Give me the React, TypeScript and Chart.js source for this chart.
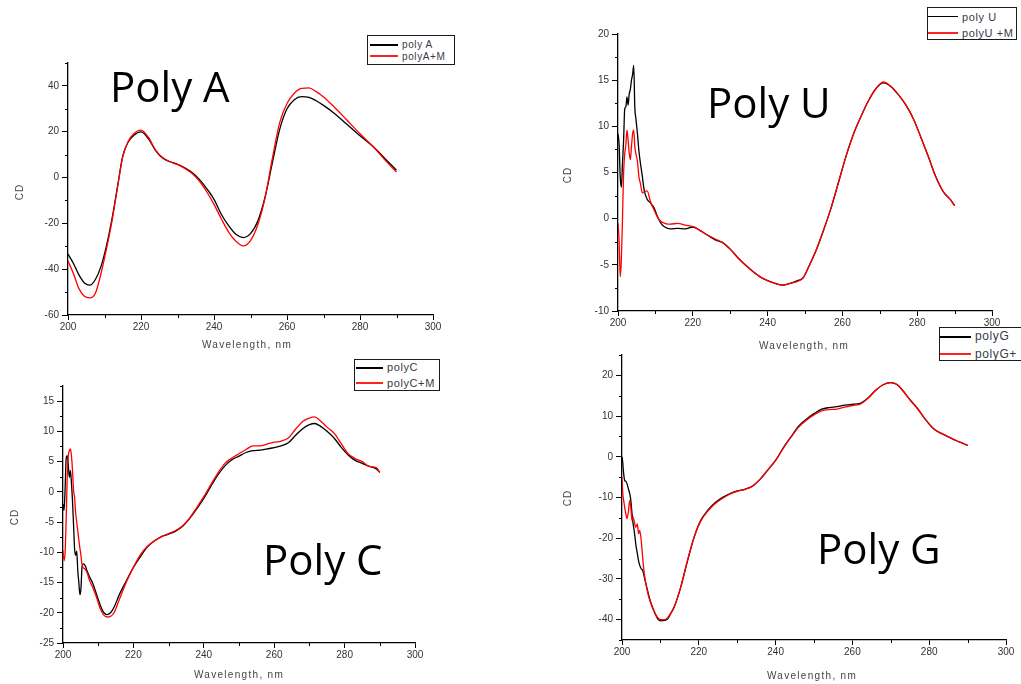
import { useEffect, useRef } from "react";
import { Chart, registerables } from "chart.js";

Chart.register(...registerables);

// ---- Poly A ----
const polyAWave = [200, 201.5, 203, 204.5, 206, 207.5, 209, 210.5, 212, 213.5, 215, 216.5, 218, 220, 222, 224, 226, 228, 230, 232, 234, 236, 238, 240, 242, 244, 246, 248, 250, 252, 254, 256, 258, 260, 262, 264, 266, 268, 270, 273, 276, 280, 284, 287, 290];
const polyA = [-33.4, -37.5, -42.5, -46, -47, -44.5, -39, -30, -18.5, -4.5, 9.5, 15.5, 18.4, 19.9, 17, 11.8, 8.4, 6.9, 5.8, 4.2, 2.2, -0.8, -4.8, -9.5, -16, -21, -24.8, -26.2, -24.5, -19, -8.5, 6.5, 21, 30, 34, 35.3, 35, 33.5, 31.5, 28, 23.8, 18.2, 12.9, 8, 3.2];
const polyAM = [-36.4, -42, -48.5, -51.8, -52.5, -50.5, -42.2, -31.5, -19.5, -5, 9, 15.8, 19.1, 20.7, 17.6, 12, 8.6, 6.9, 5.6, 4, 1.8, -1.5, -6.2, -11.7, -18, -23.8, -27.8, -29.8, -27.5, -20.6, -8.8, 8.5, 24, 32.3, 36.8, 38.9, 39.1, 37.5, 35.2, 30.7, 25.8, 19.1, 12.8, 7.4, 2.4];

// ---- Poly U ----
const polyUWave = [200, 200.3, 200.6, 200.9, 201.2, 201.5, 201.8, 202.1, 202.4, 202.7, 203, 203.3, 203.6, 203.9, 204.2, 204.5, 204.8, 205.2, 205.6, 206, 206.5, 207, 207.8, 208.7, 209.6, 210.5, 211.5, 212.5, 214, 216, 218, 220, 222, 224, 226, 228, 230, 232, 234, 236, 238, 240, 242, 244, 246, 248, 249.5, 251, 253, 255, 257, 259, 261, 263, 265, 267, 269, 271, 273, 275, 277, 279, 281, 283, 285, 287, 289, 290];
const polyU = [9.2, 8, 4.5, 3.4, 6, 8.5, 11.9, 12.1, 13.2, 12.3, 13.5, 14, 15, 15.6, 16.6, 12, 10.8, 9.2, 7.3, 6, 4.6, 3.1, 2.1, 1.7, 1.2, 0.3, -0.5, -0.9, -1.1, -1.05, -1.1, -0.9, -1.3, -1.8, -2.3, -2.6, -3.3, -4.2, -5, -5.7, -6.3, -6.7, -7, -7.2, -7, -6.7, -6.4, -5.2, -3.4, -1.2, 1.2, 4, 6.8, 9.2, 11.1, 12.8, 14.1, 14.7, 14.3, 13.4, 12.3, 10.8, 8.8, 6.7, 4.5, 2.9, 2, 1.4];
const polyUM = [-0.5, -2.5, -6.3, -4.4, 0, 5, 7, 8, 9.6, 8.5, 7.1, 6.4, 7.8, 9.2, 9.6, 7.8, 7, 6.2, 4.5, 3.8, 2.8, 2.9, 3, 1.8, 1, 0.2, -0.3, -0.5, -0.6, -0.5, -0.7, -0.85, -1.3, -1.8, -2.2, -2.6, -3.3, -4.2, -5, -5.7, -6.3, -6.7, -7, -7.2, -7, -6.8, -6.4, -5.2, -3.4, -1.2, 1.2, 4, 6.8, 9.2, 11.1, 12.8, 14.1, 14.8, 14.3, 13.4, 12.3, 10.8, 8.8, 6.7, 4.5, 2.9, 2, 1.4];

// ---- Poly C ----
const polyCWave = [200, 200.3, 200.6, 200.9, 201.2, 201.5, 201.8, 202.1, 202.4, 202.7, 203, 203.3, 203.6, 203.9, 204.2, 204.5, 204.8, 205.1, 205.4, 205.8, 206.3, 206.8, 207.5, 208.5, 209.5, 210.5, 211.5, 212.5, 213.5, 214.5, 216, 218, 220, 222, 224, 226, 228, 230, 232, 234, 236, 238, 240, 242, 244, 246, 248, 250, 252, 254, 256, 258, 260, 262, 264, 266, 268, 270, 271.5, 273, 275, 277, 279, 281, 283, 285, 287, 289, 290];
const polyC = [-2, -3.1, 0.5, 5.5, 6, 4.5, 2.4, 3.5, 1.5, -1.5, -5.5, -9.5, -10.5, -9.8, -13, -15, -17, -16, -12.5, -11.9, -12.2, -13, -14, -15.2, -16.9, -18.6, -19.9, -20.3, -20, -19.1, -17, -14.7, -12.5, -10.7, -9.1, -8.1, -7.4, -7, -6.5, -5.7, -4.4, -2.8, -1.1, 0.9, 2.8, 4.3, 5.3, 5.9, 6.5, 6.8, 6.9, 7.1, 7.3, 7.6, 8.1, 9.3, 10.4, 11.1, 11.3, 10.9, 10, 8.9, 7.4, 6.1, 5.2, 4.7, 4.2, 3.8, 3.2];
const polyCM = [-9.7, -11.4, -10, -4.5, 2.5, 6, 6.8, 7.1, 6, 3.5, 0.3, -1, -3.5, -5, -6.5, -8, -9.3, -10.5, -12, -12.6, -12.8, -13.3, -14.6, -15.9, -17.4, -19.2, -20.3, -20.7, -20.6, -20, -17.8, -14.9, -12.5, -10.4, -9, -8.1, -7.4, -6.9, -6.4, -5.6, -4.3, -2.6, -0.8, 1.2, 3.1, 4.7, 5.6, 6.3, 7, 7.6, 7.6, 7.9, 8.2, 8.4, 8.9, 10.3, 11.6, 12.2, 12.4, 11.8, 10.7, 9.7, 8, 6.3, 5.5, 5, 4.2, 4, 3.2];

// ---- Poly G ----
const polyGWave = [200, 200.2, 200.4, 200.7, 201, 201.3, 201.7, 202, 202.3, 202.6, 202.9, 203.2, 203.6, 204, 204.3, 204.6, 205, 205.4, 205.8, 206.7, 207.5, 208.4, 209.3, 210.1, 211, 211.9, 212.7, 213.6, 215.3, 217, 218.8, 220.5, 222.3, 224, 226, 228, 230, 232, 234, 236, 238, 240, 242, 244, 246, 248, 250, 252, 254, 256, 258, 260, 262, 264, 266, 268, 270, 271.5, 273, 275, 277, 279, 281, 283, 285, 287, 289, 290];
const polyG = [0, -1.5, -3.8, -5.8, -6, -6.6, -8, -9, -10.7, -13.9, -16.5, -18.3, -21.5, -23.8, -25.5, -26.6, -27.5, -27.9, -29.5, -33, -35.8, -38, -39.8, -40.3, -40.2, -39.8, -38.5, -36.9, -32, -25.8, -19.7, -15.6, -13.2, -11.5, -10.1, -9.1, -8.4, -8, -7.2, -5.5, -3.2, -0.9, 2.2, 4.9, 7.5, 9.2, 10.6, 11.7, 12.1, 12.3, 12.7, 12.9, 13.1, 14.4, 16.3, 17.7, 18.2, 17.8, 16.4, 14, 11.8, 9.2, 7, 5.8, 4.9, 4, 3.2, 2.8];
const polyGM = [-5, -9, -10.5, -12.4, -14, -15.2, -13.2, -10.7, -12.5, -15.6, -14.8, -16, -17.3, -16.5, -18.9, -18.1, -20.5, -25, -28.7, -33.4, -36, -38.1, -39.5, -40, -40, -39.5, -38.4, -36.8, -32, -25.6, -19.7, -15.8, -13.4, -11.7, -10.3, -9.2, -8.5, -8, -7.2, -5.5, -3.2, -0.9, 2.1, 4.8, 7.3, 9, 10.3, 11.3, 11.6, 11.7, 12.2, 12.6, 12.9, 14.3, 16.3, 17.7, 18.2, 17.8, 16.4, 14, 11.8, 9.2, 7, 5.8, 4.9, 4, 3.2, 2.8];

// ---- ticks and labels ----
const waveTicks = [200, 220, 240, 260, 280, 300];
const polyATicks = [-60, -40, -20, 0, 20, 40];
const polyUTicks = [-10, -5, 0, 5, 10, 15, 20];
const polyCTicks = [-25, -20, -15, -10, -5, 0, 5, 10, 15];
const polyGTicks = [-40, -30, -20, -10, 0, 10, 20];

const polyALabels = ["poly A", "polyA+M"];
const polyULabels = ["poly U", "polyU +M"];
const polyCLabels = ["polyC", "polyC+M"];
const polyGLabels = ["polyG", "polyG+"];

const TICK_FONT = { family: "'Liberation Sans', Arial, sans-serif", size: 10 };

// Origin-style minor ticks, outside the axes
const minorTicks = {
  id: "minorTicks",
  afterDraw(chart: any, _args: any, opts: any) {
    const ctx = chart.ctx;
    ctx.save();
    ctx.strokeStyle = "#000";
    ctx.lineWidth = 1;
    for (const id of ["x", "y"]) {
      const scale = chart.scales[id];
      const step = opts[id];
      const majors = scale.ticks.map((t: any) => t.value);
      for (let v = scale.min; v <= scale.max + 1e-9; v += step) {
        if (majors.some((m: number) => Math.abs(m - v) < 1e-6)) continue;
        const p = Math.round(scale.getPixelForValue(v)) + 0.5;
        ctx.beginPath();
        if (id === "x") {
          ctx.moveTo(p, scale.top);
          ctx.lineTo(p, scale.top + 3);
        } else {
          ctx.moveTo(scale.right, p);
          ctx.lineTo(scale.right - 3, p);
        }
        ctx.stroke();
      }
    }
    ctx.restore();
  },
};

interface PanelProps {
  wave: number[];
  base: number[];
  mixed: number[];
  labels: string[];
  title: string;
  yMin: number;
  yMax: number;
  yTicks: number[];
  yMinor: number;
  box: { l: number; t: number; r: number; b: number };
  titleAt: { left: number; baseline: number };
  xTitleAt: { x: number; y: number };
  yTitleAt: { x: number; y: number };
  legend: { left: number; top: number; width: number; height: number; padTop: number; lh: number; fs: number; lineOff: number; lineLen: number };
}

function Panel(p: PanelProps) {
  const ref = useRef<HTMLCanvasElement>(null);
  const left = Math.round(p.box.l) - 45;
  const top = Math.round(p.box.t) - 12;
  const width = Math.round(p.box.r) + 22 - left;
  const height = Math.round(p.box.b) + 30 - top;
  const yAxisW = Math.round(p.box.l) - left;
  const xAxisH = 30;

  useEffect(() => {
    if (!ref.current) return;
    const chart = new Chart(ref.current, {
      type: "line",
      data: {
        datasets: [
          {
            label: p.labels[0],
            data: p.wave.map((x, i) => ({ x, y: p.base[i] })),
            borderColor: "#000000",
            borderWidth: 1.3,
            pointRadius: 0,
            cubicInterpolationMode: "monotone",
            order: 2,
          },
          {
            label: p.labels[1],
            data: p.wave.map((x, i) => ({ x, y: p.mixed[i] })),
            borderColor: "#ff0000",
            borderWidth: 1.3,
            pointRadius: 0,
            cubicInterpolationMode: "monotone",
            order: 1,
          },
        ],
      },
      options: {
        animation: false,
        responsive: false,
        maintainAspectRatio: false,
        layout: { padding: { top: 12, right: 22, left: 0, bottom: 0 } },
        plugins: {
          legend: { display: false },
          tooltip: { enabled: false },
          minorTicks: { x: 10, y: p.yMinor },
        } as any,
        scales: {
          x: {
            type: "linear",
            min: 200,
            max: 300,
            afterBuildTicks: (s: any) => {
              s.ticks = waveTicks.map((value) => ({ value }));
            },
            afterFit: (s: any) => {
              s.height = xAxisH;
            },
            ticks: { font: TICK_FONT, color: "#333", padding: 1, maxRotation: 0 },
            grid: { drawOnChartArea: false, tickLength: 5, color: "#000", lineWidth: 1 },
            border: { color: "#000", width: 1.3 },
          },
          y: {
            type: "linear",
            min: p.yMin,
            max: p.yMax,
            afterBuildTicks: (s: any) => {
              s.ticks = p.yTicks.map((value) => ({ value }));
            },
            afterFit: (s: any) => {
              s.width = yAxisW;
            },
            ticks: { font: TICK_FONT, color: "#333", padding: 3 },
            grid: { drawOnChartArea: false, tickLength: 6, color: "#000", lineWidth: 1 },
            border: { color: "#000", width: 1.3 },
          },
        },
      },
      plugins: [minorTicks],
    });
    return () => chart.destroy();
  }, []);

  const lg = p.legend;
  return (
    <>
      <canvas
        ref={ref}
        width={width}
        height={height}
        style={{ position: "absolute", left, top, width, height }}
      />
      <div
        style={{
          position: "absolute",
          left: p.titleAt.left,
          top: p.titleAt.baseline - 37,
          fontFamily: "'Open Sans', sans-serif",
          fontSize: 42,
          lineHeight: 1,
          color: "#000",
          whiteSpace: "nowrap",
        }}
      >
        {p.title}
      </div>
      <div
        style={{
          position: "absolute",
          left: p.xTitleAt.x - 100,
          top: p.xTitleAt.y - 7,
          width: 200,
          textAlign: "center",
          fontFamily: "'Liberation Sans', Arial, sans-serif",
          fontSize: 10,
          lineHeight: "14px",
          letterSpacing: 1.3,
          color: "#444",
        }}
      >
        Wavelength, nm
      </div>
      <div
        style={{
          position: "absolute",
          left: p.yTitleAt.x - 20,
          top: p.yTitleAt.y - 7,
          width: 40,
          textAlign: "center",
          transform: "rotate(-90deg)",
          fontFamily: "'Liberation Sans', Arial, sans-serif",
          fontSize: 10,
          lineHeight: "14px",
          letterSpacing: 1,
          color: "#444",
        }}
      >
        CD
      </div>
      <div
        style={{
          position: "absolute",
          left: lg.left,
          top: lg.top,
          width: lg.width,
          height: lg.height,
          boxSizing: "border-box",
          border: "1.5px solid #1a1a1a",
          background: "#fff",
          paddingTop: lg.padTop,
          fontFamily: "'Liberation Sans', Arial, sans-serif",
          fontSize: lg.fs,
          color: "#3a3a48",
          overflow: "hidden",
          whiteSpace: "nowrap",
        }}
      >
        {p.labels.map((name, i) => (
          <div key={name} style={{ display: "flex", alignItems: "center", height: lg.lh, lineHeight: `${lg.lh}px` }}>
            <span
              style={{
                display: "inline-block",
                marginLeft: lg.lineOff,
                width: lg.lineLen,
                height: i === 0 ? 1.5 : 2,
                background: i === 0 ? "#000" : "#ff2020",
                marginRight: 4,
              }}
            />
            <span style={{ letterSpacing: 0.6 }}>{name}</span>
          </div>
        ))}
      </div>
    </>
  );
}

export default function App() {
  return (
    <div
      style={{
        position: "fixed",
        left: 0,
        top: 0,
        width: 1021,
        height: 684,
        background: "#fff",
        overflow: "hidden",
      }}
    >
      <Panel
        wave={polyAWave}
        base={polyA}
        mixed={polyAM}
        labels={polyALabels}
        title="Poly A"
        yMin={-60}
        yMax={50}
        yTicks={polyATicks}
        yMinor={10}
        box={{ l: 68, t: 63, r: 433, b: 315 }}
        titleAt={{ left: 110, baseline: 102 }}
        xTitleAt={{ x: 247, y: 345 }}
        yTitleAt={{ x: 20, y: 192 }}
        legend={{ left: 367, top: 35, width: 88, height: 30, padTop: 3, lh: 11.5, fs: 10, lineOff: 2, lineLen: 28 }}
      />
      <Panel
        wave={polyUWave}
        base={polyU}
        mixed={polyUM}
        labels={polyULabels}
        title="Poly U"
        yMin={-10}
        yMax={20}
        yTicks={polyUTicks}
        yMinor={2.5}
        box={{ l: 618, t: 34, r: 992, b: 311 }}
        titleAt={{ left: 707, baseline: 118 }}
        xTitleAt={{ x: 804, y: 346 }}
        yTitleAt={{ x: 568, y: 175 }}
        legend={{ left: 927, top: 7, width: 90, height: 33, padTop: 0.5, lh: 16, fs: 11, lineOff: 0, lineLen: 30 }}
      />
      <Panel
        wave={polyCWave}
        base={polyC}
        mixed={polyCM}
        labels={polyCLabels}
        title="Poly C"
        yMin={-25}
        yMax={17.5}
        yTicks={polyCTicks}
        yMinor={2.5}
        box={{ l: 63, t: 386, r: 415, b: 643 }}
        titleAt={{ left: 263, baseline: 575 }}
        xTitleAt={{ x: 239, y: 675 }}
        yTitleAt={{ x: 15, y: 517 }}
        legend={{ left: 354, top: 359, width: 86, height: 32, padTop: 0, lh: 15.5, fs: 11, lineOff: 1, lineLen: 27 }}
      />
      <Panel
        wave={polyGWave}
        base={polyG}
        mixed={polyGM}
        labels={polyGLabels}
        title="Poly G"
        yMin={-45}
        yMax={25}
        yTicks={polyGTicks}
        yMinor={5}
        box={{ l: 622, t: 354.5, r: 1006, b: 640 }}
        titleAt={{ left: 817, baseline: 564 }}
        xTitleAt={{ x: 812, y: 676 }}
        yTitleAt={{ x: 568, y: 498 }}
        legend={{ left: 939, top: 327, width: 100, height: 34, padTop: 0, lh: 17.5, fs: 12, lineOff: 0, lineLen: 31 }}
      />
    </div>
  );
}
